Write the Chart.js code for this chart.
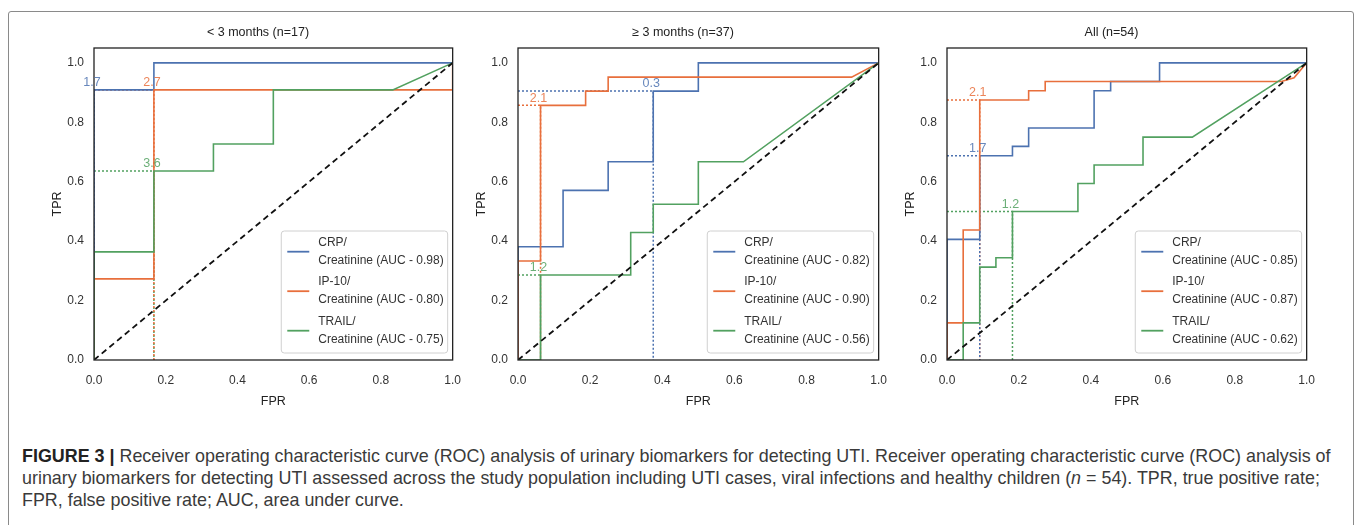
<!DOCTYPE html>
<html>
<head>
<meta charset="utf-8">
<script src="https://cdn.jsdelivr.net/npm/chart.js@4.4.1/dist/chart.umd.min.js"></script>
<style>
body { margin: 0; background: #fff; width: 1358px; height: 525px; overflow: hidden; position: relative;
       font-family: "Liberation Sans", Arial, sans-serif; }
#frame { position: absolute; left: 8px; top: 11px; width: 1344px; height: 600px; border: 1.5px solid #8a8a8a; border-radius: 3px; }
.panel { position: absolute; top: 20px; }
#caption { position: absolute; left: 22px; top: 445px; font-size: 17.9px; line-height: 22px; color: #3a3a3a; white-space: nowrap; }
#caption b { color: #222; }
</style>
</head>
<body>
<div id="frame"></div>
<div class="panel" style="left:50px"><canvas id="roc1" width="424" height="390"></canvas></div>
<div class="panel" style="left:474px"><canvas id="roc2" width="426" height="390"></canvas></div>
<div class="panel" style="left:903px"><canvas id="roc3" width="425" height="390"></canvas></div>
<div id="caption">
<b>FIGURE 3 |</b> Receiver operating characteristic curve (ROC) analysis of urinary biomarkers for detecting UTI. Receiver operating characteristic curve (ROC) analysis of<br>
urinary biomarkers for detecting UTI assessed across the study population including UTI cases, viral infections and healthy children (<i>n</i> = 54). TPR, true positive rate;<br>
FPR, false positive rate; AUC, area under curve.
</div>
<script>
// tick labels
const xTicks = [0, 0.2, 0.4, 0.6, 0.8, 1.0];
const yTicks = [0, 0.2, 0.4, 0.6, 0.8, 1.0];

const markers = ['CRP/', 'IP-10/', 'TRAIL/'];
const colors = ['#4C72B0', '#E86F3C', '#52A160'];

// chance line
const diagFpr = [0, 1];
const diagTpr = [0, 1];

// < 3 months (n=17)
const fprCrp1 = [0, 0, 0.167, 0.167, 1];
const tprCrp1 = [0, 0.909, 0.909, 1, 1];
const fprIp1 = [0, 0, 0.167, 0.167, 1, 1];
const tprIp1 = [0, 0.273, 0.273, 0.909, 0.909, 1];
const fprTrail1 = [0, 0, 0.167, 0.167, 0.333, 0.333, 0.5, 0.5, 0.833, 1];
const tprTrail1 = [0, 0.364, 0.364, 0.636, 0.636, 0.727, 0.727, 0.909, 0.909, 1];
const cutFpr1 = [0, 0.167, 0.167];
const cutTpr1 = [0.909, 0.909, 0.636];
const cutLabel1 = ['1.7', '2.7', '3.6'];
const auc1 = [0.98, 0.80, 0.75];

// >= 3 months (n=37)
const fprCrp2 = [0, 0, 0.125, 0.125, 0.25, 0.25, 0.375, 0.375, 0.5, 0.5, 1];
const tprCrp2 = [0, 0.381, 0.381, 0.571, 0.571, 0.667, 0.667, 0.905, 0.905, 1, 1];
const fprIp2 = [0, 0, 0.0625, 0.0625, 0.1875, 0.1875, 0.25, 0.25, 0.925, 1];
const tprIp2 = [0, 0.333, 0.333, 0.857, 0.857, 0.905, 0.905, 0.952, 0.952, 1];
const fprTrail2 = [0, 0.0625, 0.0625, 0.3125, 0.3125, 0.375, 0.375, 0.5, 0.5, 0.625, 1];
const tprTrail2 = [0, 0, 0.286, 0.286, 0.429, 0.429, 0.524, 0.524, 0.667, 0.667, 1];
const cutFpr2 = [0.375, 0.0625, 0.0625];
const cutTpr2 = [0.905, 0.857, 0.286];
const cutLabel2 = ['0.3', '2.1', '1.2'];
const auc2 = [0.82, 0.90, 0.56];

// All (n=54)
const fprCrp3 = [0, 0, 0.091, 0.091, 0.182, 0.182, 0.227, 0.227, 0.409, 0.409, 0.455, 0.455, 0.591, 0.591, 1];
const tprCrp3 = [0, 0.406, 0.406, 0.6875, 0.6875, 0.719, 0.719, 0.781, 0.781, 0.906, 0.906, 0.9375, 0.9375, 1, 1];
const fprIp3 = [0, 0, 0.045, 0.045, 0.091, 0.091, 0.227, 0.227, 0.273, 0.273, 0.93, 0.965, 1];
const tprIp3 = [0, 0.125, 0.125, 0.4375, 0.4375, 0.875, 0.875, 0.906, 0.906, 0.9375, 0.9375, 0.95, 1];
const fprTrail3 = [0, 0.045, 0.045, 0.091, 0.091, 0.136, 0.136, 0.182, 0.182, 0.364, 0.364, 0.409, 0.409, 0.545, 0.545, 0.682, 1];
const tprTrail3 = [0, 0, 0.125, 0.125, 0.3125, 0.3125, 0.344, 0.344, 0.5, 0.5, 0.594, 0.594, 0.656, 0.656, 0.75, 0.75, 1];
const cutFpr3 = [0.091, 0.091, 0.182];
const cutTpr3 = [0.6875, 0.875, 0.5];
const cutLabel3 = ['1.7', '2.1', '1.2'];
const auc3 = [0.85, 0.87, 0.62];

const FONT = '"Liberation Sans", Arial, sans-serif';
Chart.defaults.font.family = FONT;
Chart.defaults.color = '#333';

function pts(xs, ys) {
    return xs.map((x, i) => ({x: x, y: ys[i]}));
}

// black frame round the axes, cut-off labels, legend box
const rocDecor = {
    id: 'rocDecor',
    afterDatasetsDraw(chart, args, opts) {
        const ctx = chart.ctx;
        const a = chart.chartArea;
        const xs = chart.scales.x, ys = chart.scales.y;
        ctx.save();
        ctx.strokeStyle = '#222';
        ctx.lineWidth = 1.3;
        ctx.strokeRect(a.left, a.top, a.right - a.left, a.bottom - a.top);

        // threshold labels
        ctx.font = '12.5px ' + FONT;
        ctx.textAlign = 'center';
        ctx.textBaseline = 'bottom';
        opts.cutFpr.forEach((fx, k) => {
            ctx.fillStyle = colors[k];
            ctx.globalAlpha = 0.85;
            ctx.fillText(opts.cutLabel[k], xs.getPixelForValue(fx) - 2, ys.getPixelForValue(opts.cutTpr[k]) - 1);
        });
        ctx.globalAlpha = 1;

        // legend
        ctx.font = '12px ' + FONT;
        const lines = markers.map((m, k) => [m, 'Creatinine (AUC - ' + opts.auc[k].toFixed(2) + ')']);
        let tw = 0;
        lines.forEach(l => l.forEach(t => { tw = Math.max(tw, ctx.measureText(t).width); }));
        const w = 37 + tw + 4, h = 122;
        const x0 = a.right - 5 - w, y0 = a.bottom - 7 - h;
        ctx.fillStyle = 'rgba(255,255,255,0.85)';
        ctx.strokeStyle = '#d0d0d0';
        ctx.lineWidth = 1;
        ctx.beginPath();
        ctx.roundRect(x0, y0, w, h, 3);
        ctx.fill();
        ctx.stroke();
        ctx.textAlign = 'left';
        ctx.textBaseline = 'middle';
        lines.forEach((l, k) => {
            const cy = y0 + 20.7 + k * 39.5;
            ctx.strokeStyle = colors[k];
            ctx.lineWidth = 1.8;
            ctx.beginPath();
            ctx.moveTo(x0 + 6, cy);
            ctx.lineTo(x0 + 28, cy);
            ctx.stroke();
            ctx.fillStyle = '#333';
            ctx.fillText(l[0], x0 + 37, cy - 9.5);
            ctx.fillText(l[1], x0 + 37, cy + 8.5);
        });
        ctx.restore();
    }
};

function rocChart(id, title, curves, cutFpr, cutTpr, cutLabel, auc) {
    const datasets = [{
        data: pts(diagFpr, diagTpr),
        borderColor: '#111', borderWidth: 1.8, borderDash: [6, 4], order: 0
    }];
    curves.forEach((c, k) => {
        datasets.push({
            label: markers[k],
            data: pts(c[0], c[1]),
            borderColor: colors[k], borderWidth: 1.6, order: 3 - k
        });
        datasets.push({
            data: pts([0, cutFpr[k], cutFpr[k]], [cutTpr[k], cutTpr[k], 0]),
            borderColor: colors[k], borderWidth: 1.5, borderDash: [2, 2], order: 10
        });
    });

    new Chart(document.getElementById(id), {
        type: 'line',
        data: {datasets: datasets},
        plugins: [rocDecor],
        options: {
            responsive: false,
            animation: false,
            events: [],
            elements: {point: {radius: 0}, line: {tension: 0}},
            layout: {padding: {right: 8}},
            plugins: {
                legend: {display: false},
                tooltip: {enabled: false},
                title: {display: true, text: title, color: '#222',
                        font: {size: 12.5, weight: 'normal'}, padding: {top: 5, bottom: 8}},
                rocDecor: {cutFpr: cutFpr, cutTpr: cutTpr, cutLabel: cutLabel, auc: auc}
            },
            scales: {
                x: {
                    type: 'linear', min: 0, max: 1,
                    afterBuildTicks: s => { s.ticks = xTicks.map(v => ({value: v})); },
                    afterFit: s => { s.height = 50; },
                    grid: {display: false, drawTicks: false},
                    border: {display: false},
                    ticks: {padding: 13, font: {size: 12}, color: '#333', callback: v => v.toFixed(1)},
                    title: {display: true, text: 'FPR', color: '#222', font: {size: 12.5}, padding: {top: 4, bottom: 1}}
                },
                y: {
                    type: 'linear', min: 0, max: 1.05,
                    afterBuildTicks: s => { s.ticks = yTicks.map(v => ({value: v})); },
                    afterFit: s => { s.width = 44; },
                    grid: {display: false, drawTicks: false},
                    border: {display: false},
                    ticks: {padding: 10, font: {size: 12}, color: '#333', callback: v => v.toFixed(1)},
                    title: {display: true, text: 'TPR', color: '#222', font: {size: 12.5}, padding: 0}
                }
            }
        }
    });
}

rocChart('roc1', '< 3 months (n=17)',
    [[fprCrp1, tprCrp1], [fprIp1, tprIp1], [fprTrail1, tprTrail1]],
    cutFpr1, cutTpr1, cutLabel1, auc1);
rocChart('roc2', '\u2265 3 months (n=37)',
    [[fprCrp2, tprCrp2], [fprIp2, tprIp2], [fprTrail2, tprTrail2]],
    cutFpr2, cutTpr2, cutLabel2, auc2);
rocChart('roc3', 'All (n=54)',
    [[fprCrp3, tprCrp3], [fprIp3, tprIp3], [fprTrail3, tprTrail3]],
    cutFpr3, cutTpr3, cutLabel3, auc3);
</script>
</body>
</html>
